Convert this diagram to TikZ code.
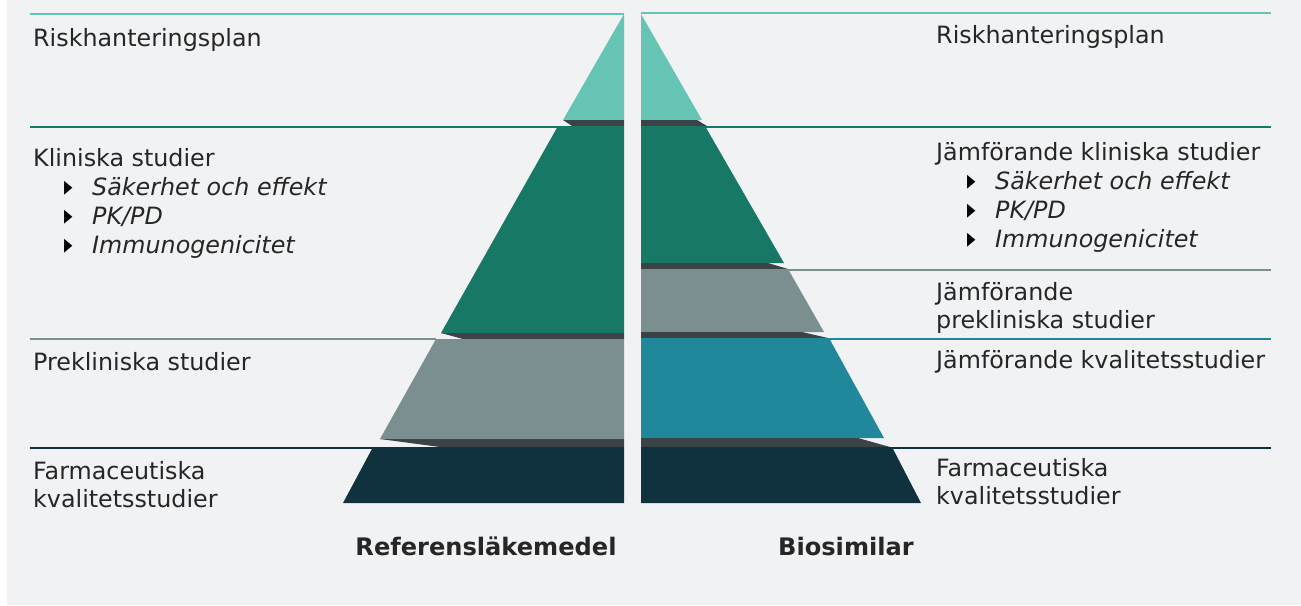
\documentclass[tikz,border=0pt]{standalone}
\usepackage{fontspec}
\setmainfont{DejaVu Sans}
\usepackage{tikz}
\definecolor{bgc}{HTML}{F1F2F4}
\definecolor{txtc}{HTML}{262626}
\definecolor{riskc}{HTML}{65C4B3}
\definecolor{klinc}{HTML}{177866}
\definecolor{prekc}{HTML}{7B8F91}
\definecolor{kvalc}{HTML}{21889B}
\definecolor{farmc}{HTML}{0F323E}
\definecolor{shadc}{HTML}{3A4447}
\newcommand{\pil}{\scalebox{0.6}[1]{▸}}
\tikzset{
  lbl/.style={anchor=base west,inner sep=0pt,text=txtc,font=\fontsize{23.8}{29}\selectfont},
  itm/.style={lbl,font=\fontsize{23.8}{29}\selectfont\itshape},
  bul/.style={anchor=base west,inner sep=0pt,text=black,font=\fontsize{28}{30}\selectfont},
  ttl/.style={anchor=base,inner sep=0pt,text=txtc,font=\fontsize{24.1}{28}\selectfont\bfseries},
  rule/.style={line width=2.2pt}
}

\begin{document}
\begin{tikzpicture}[x=1pt,y=-1pt]
                \useasboundingbox (0,0) rectangle (1301,605);
                \fill[white] (0,0) rectangle (1301,605);
                \fill[bgc] (7,0) rectangle (1301,605);
                % left pyramid
                \fill[riskc] (624,14) -- (563,120) -- (624,120) -- cycle;
                \fill[shadc] (563,120) -- (624,120) -- (624,126) -- (572,126) -- cycle;
                \fill[klinc] (558,126) -- (624,126) -- (624,333) -- (441,333) -- cycle;
                \fill[shadc] (441,333) -- (624,333) -- (624,339) -- (463,339) -- cycle;
                \fill[prekc] (436,339) -- (624,339) -- (624,439) -- (380,439) -- cycle;
                \fill[shadc] (380,439) -- (624,439) -- (624,447) -- (440,447) -- cycle;
                \fill[farmc] (373,447) -- (624,447) -- (624,503) -- (343,503) -- cycle;
                % right pyramid
                \fill[riskc] (641,14) -- (702,120) -- (641,120) -- cycle;
                \fill[shadc] (641,120) -- (697,120) -- (707,126) -- (641,126) -- cycle;
                \fill[klinc] (641,126) -- (705,126) -- (784,263) -- (641,263) -- cycle;
                \fill[shadc] (641,263) -- (768,263) -- (788,269) -- (641,269) -- cycle;
                \fill[prekc] (641,269) -- (788,269) -- (824,332) -- (641,332) -- cycle;
                \fill[shadc] (641,332) -- (802,332) -- (828,338) -- (641,338) -- cycle;
                \fill[kvalc] (641,338) -- (829,338) -- (884,438) -- (641,438) -- cycle;
                \fill[shadc] (641,438) -- (858,438) -- (890,447) -- (641,447) -- cycle;
                \fill[farmc] (641,447) -- (892,447) -- (921,503) -- (641,503) -- cycle;
                % rules
                \draw[rule,riskc] (30,14) -- (624,14);
                \draw[rule,klinc] (30,127) -- (558,127);
                \draw[rule,prekc] (30,339) -- (436,339);
                \draw[rule,farmc] (30,448) -- (373,448);
                \draw[rule,riskc] (641,13) -- (1271,13);
                \draw[rule,klinc] (705,127) -- (1271,127);
                \draw[rule,prekc] (788,270) -- (1271,270);
                \draw[rule,kvalc] (829,339) -- (1271,339);
                \draw[rule,farmc] (892,448) -- (1271,448);
                % left labels
                \node[lbl] (lrisk) at (33,46) {Riskhanteringsplan};
                \node[lbl] (lklin) at (33,166) {Kliniska studier};
                \node[bul] (lb1) at (64,195) {\pil};
                \node[itm] (lsak) at (92,195) {Säkerhet och effekt};
                \node[bul] (lb2) at (64,224) {\pil};
                \node[itm] (lpk) at (92,224) {PK/PD};
                \node[bul] (lb3) at (64,253) {\pil};
                \node[itm] (limm) at (92,253) {Immunogenicitet};
                \node[lbl] (lprek) at (33,370) {Prekliniska studier};
                \node[lbl] (lfarm) at (33,479) {Farmaceutiska};
                \node[lbl] (lkval) at (33,507) {kvalitetsstudier};
                % right labels
                \node[lbl] (rrisk) at (936,43) {Riskhanteringsplan};
                \node[lbl] (rklin) at (936,160) {Jämförande kliniska studier};
                \node[bul] (rb1) at (967,189) {\pil};
                \node[itm] (rsak) at (995,189) {Säkerhet och effekt};
                \node[bul] (rb2) at (967,218) {\pil};
                \node[itm] (rpk) at (995,218) {PK/PD};
                \node[bul] (rb3) at (967,247) {\pil};
                \node[itm] (rimm) at (995,247) {Immunogenicitet};
                \node[lbl] (rprek1) at (936,300) {Jämförande};
                \node[lbl] (rprek2) at (936,328) {prekliniska studier};
                \node[lbl] (rkval) at (936,368) {Jämförande kvalitetsstudier};
                \node[lbl] (rfarm) at (936,476) {Farmaceutiska};
                \node[lbl] (rkval2) at (936,504) {kvalitetsstudier};
                % titles
                \node[ttl] (ref) at (486,555) {Referensläkemedel};
                \node[ttl] (bio) at (846,555) {Biosimilar};
            \end{tikzpicture}
\end{document}
